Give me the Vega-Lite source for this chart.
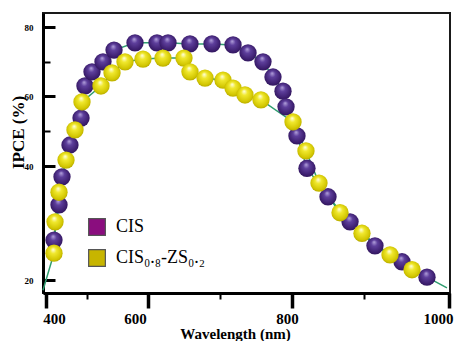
{
  "$schema": "https://vega.github.io/schema/vega-lite/v6.json",
  "width": 407,
  "height": 280,
  "autosize": "none",
  "padding": {"left": 43, "top": 13, "right": 9, "bottom": 48},
  "background": "white",
  "config": {
    "view": {"stroke": "#1a1a1a", "strokeWidth": 2},
    "font": "Liberation Serif"
  },
  "data": {
    "values": [
      {"series": "CIS", "kind": "pt", "wl": 419.5, "ipce": 27.0},
      {"series": "CIS", "kind": "pt", "wl": 431.7, "ipce": 33.2},
      {"series": "CIS", "kind": "pt", "wl": 439.0, "ipce": 38.1},
      {"series": "CIS", "kind": "pt", "wl": 458.5, "ipce": 46.0},
      {"series": "CIS", "kind": "pt", "wl": 485.4, "ipce": 53.7},
      {"series": "CIS", "kind": "pt", "wl": 495.0, "ipce": 62.9},
      {"series": "CIS", "kind": "pt", "wl": 508.2, "ipce": 67.0},
      {"series": "CIS", "kind": "pt", "wl": 526.2, "ipce": 69.9},
      {"series": "CIS", "kind": "pt", "wl": 544.3, "ipce": 73.3},
      {"series": "CIS", "kind": "pt", "wl": 578.7, "ipce": 75.4},
      {"series": "CIS", "kind": "pt", "wl": 612.5, "ipce": 75.4},
      {"series": "CIS", "kind": "pt", "wl": 627.8, "ipce": 75.4},
      {"series": "CIS", "kind": "pt", "wl": 658.3, "ipce": 75.1},
      {"series": "CIS", "kind": "pt", "wl": 688.9, "ipce": 75.1},
      {"series": "CIS", "kind": "pt", "wl": 718.1, "ipce": 74.8},
      {"series": "CIS", "kind": "pt", "wl": 738.9, "ipce": 72.5},
      {"series": "CIS", "kind": "pt", "wl": 759.7, "ipce": 69.9},
      {"series": "CIS", "kind": "pt", "wl": 773.6, "ipce": 65.5},
      {"series": "CIS", "kind": "pt", "wl": 787.5, "ipce": 61.4},
      {"series": "CIS", "kind": "pt", "wl": 791.7, "ipce": 56.9},
      {"series": "CIS", "kind": "pt", "wl": 806.9, "ipce": 48.6},
      {"series": "CIS", "kind": "pt", "wl": 820.8, "ipce": 39.6},
      {"series": "CIS", "kind": "pt", "wl": 850.0, "ipce": 34.6},
      {"series": "CIS", "kind": "pt", "wl": 880.6, "ipce": 30.2},
      {"series": "CIS", "kind": "pt", "wl": 912.9, "ipce": 26.0},
      {"series": "CIS", "kind": "pt", "wl": 944.7, "ipce": 23.2},
      {"series": "CIS", "kind": "pt", "wl": 974.1, "ipce": 20.5},
      {"series": "CIS", "kind": "end", "wl": 997.6, "ipce": 18.6},
      {"series": "CIS₀.₈-ZS₀.₂", "kind": "end", "wl": 394.0, "ipce": 18.2},
      {"series": "CIS₀.₈-ZS₀.₂", "kind": "pt", "wl": 419.5, "ipce": 24.7},
      {"series": "CIS₀.₈-ZS₀.₂", "kind": "pt", "wl": 422.0, "ipce": 30.2},
      {"series": "CIS₀.₈-ZS₀.₂", "kind": "pt", "wl": 431.7, "ipce": 35.4},
      {"series": "CIS₀.₈-ZS₀.₂", "kind": "pt", "wl": 448.8, "ipce": 41.7},
      {"series": "CIS₀.₈-ZS₀.₂", "kind": "pt", "wl": 470.7, "ipce": 50.3},
      {"series": "CIS₀.₈-ZS₀.₂", "kind": "pt", "wl": 487.8, "ipce": 58.3},
      {"series": "CIS₀.₈-ZS₀.₂", "kind": "pt", "wl": 522.9, "ipce": 62.9},
      {"series": "CIS₀.₈-ZS₀.₂", "kind": "pt", "wl": 541.0, "ipce": 66.7},
      {"series": "CIS₀.₈-ZS₀.₂", "kind": "pt", "wl": 562.3, "ipce": 69.9},
      {"series": "CIS₀.₈-ZS₀.₂", "kind": "pt", "wl": 591.8, "ipce": 70.7},
      {"series": "CIS₀.₈-ZS₀.₂", "kind": "pt", "wl": 620.8, "ipce": 71.0},
      {"series": "CIS₀.₈-ZS₀.₂", "kind": "pt", "wl": 650.0, "ipce": 71.0},
      {"series": "CIS₀.₈-ZS₀.₂", "kind": "pt", "wl": 658.3, "ipce": 67.0},
      {"series": "CIS₀.₈-ZS₀.₂", "kind": "pt", "wl": 679.2, "ipce": 65.2},
      {"series": "CIS₀.₈-ZS₀.₂", "kind": "pt", "wl": 704.2, "ipce": 64.6},
      {"series": "CIS₀.₈-ZS₀.₂", "kind": "pt", "wl": 718.1, "ipce": 62.3},
      {"series": "CIS₀.₈-ZS₀.₂", "kind": "pt", "wl": 734.7, "ipce": 60.3},
      {"series": "CIS₀.₈-ZS₀.₂", "kind": "pt", "wl": 756.9, "ipce": 58.9},
      {"series": "CIS₀.₈-ZS₀.₂", "kind": "pt", "wl": 801.4, "ipce": 52.6},
      {"series": "CIS₀.₈-ZS₀.₂", "kind": "pt", "wl": 819.4, "ipce": 44.3},
      {"series": "CIS₀.₈-ZS₀.₂", "kind": "pt", "wl": 837.5, "ipce": 37.0},
      {"series": "CIS₀.₈-ZS₀.₂", "kind": "pt", "wl": 866.7, "ipce": 31.8},
      {"series": "CIS₀.₈-ZS₀.₂", "kind": "pt", "wl": 897.2, "ipce": 28.2},
      {"series": "CIS₀.₈-ZS₀.₂", "kind": "pt", "wl": 930.6, "ipce": 24.4},
      {"series": "CIS₀.₈-ZS₀.₂", "kind": "pt", "wl": 956.5, "ipce": 21.8}
    ]
  },
  "encoding": {
    "x": {
      "field": "wl",
      "type": "quantitative",
      "scale": {
        "domain": [394, 400, 500, 600, 700, 800, 900, 1000],
        "range": [0, 3, 44, 105, 177, 249, 321, 406],
        "nice": false,
        "zero": false
      },
      "axis": {
        "values": [400, 500, 600, 700, 800, 900, 1000],
        "format": "d",
        "labelExpr": "datum.value % 200 == 0 ? datum.label : ''",
        "grid": false,
        "domainColor": "#000",
        "domainWidth": 3,
        "tickColor": "#000",
        "tickSize": {"condition": {"test": "datum.value % 200 == 0", "value": 15}, "value": 6},
        "tickWidth": {"condition": {"test": "datum.value % 200 == 0", "value": 3.5}, "value": 2},
        "labelFont": "Liberation Serif",
        "labelFontWeight": "bold",
        "labelFontSize": 15,
        "labelColor": "#000",
        "labelPadding": 3,
        "labelOffset": {
          "condition": [
            {"test": "datum.value == 400", "value": 8},
            {"test": "datum.value == 600", "value": -13},
            {"test": "datum.value == 800", "value": -5},
            {"test": "datum.value == 1000", "value": -11}
          ],
          "value": 0
        },
        "labelFlush": false,
        "title": "Wavelength  (nm)",
        "titleFont": "Liberation Serif",
        "titleFontWeight": "bold",
        "titleFontSize": 15,
        "titleColor": "#000",
        "titleX": 192,
        "titleY": 40,
        "titleBaseline": "middle",
        "titleAlign": "center"
      }
    },
    "y": {
      "field": "ipce",
      "type": "quantitative",
      "scale": {
        "domain": [17.7, 20, 40, 60, 80, 84],
        "range": [280, 267, 153, 83, 14, 0],
        "nice": false,
        "zero": false
      },
      "axis": {
        "values": [20, 40, 50, 60, 70, 80],
        "labelExpr": "datum.value % 20 == 0 ? datum.label : ''",
        "grid": false,
        "domainColor": "#000",
        "domainWidth": 3,
        "tickColor": "#000",
        "tickSize": {"condition": {"test": "datum.value % 20 == 0", "value": -12}, "value": -7},
        "tickWidth": {"condition": {"test": "datum.value % 20 == 0", "value": 3}, "value": 2},
        "labelFont": "Liberation Serif",
        "labelFontWeight": "bold",
        "labelFontSize": 9,
        "labelColor": "#000",
        "labelPadding": 22,
        "labelFlush": false,
        "title": "IPCE (%)",
        "titleFont": "Liberation Serif",
        "titleFontWeight": "bold",
        "titleFontSize": 17,
        "titleColor": "#000",
        "titleAngle": 270,
        "titleX": -25,
        "titleY": 119,
        "titleBaseline": "middle",
        "titleAlign": "center"
      }
    }
  },
  "layer": [
    {
      "mark": {"type": "line", "color": "#2f9d6f", "strokeWidth": 1.5},
      "encoding": {
        "detail": {"field": "series"},
        "order": {"field": "wl", "type": "quantitative"}
      }
    },
    {
      "transform": [{"filter": "datum.kind == 'pt'"}],
      "mark": {"type": "square", "opacity": 0, "size": 10},
      "encoding": {
        "fill": {
          "field": "series",
          "type": "nominal",
          "scale": {"domain": ["CIS", "CIS₀.₈-ZS₀.₂"], "range": ["#8a0d7e", "#c7b500"]},
          "legend": {
            "orient": "none",
            "legendX": 45,
            "legendY": 205,
            "title": null,
            "symbolType": "square",
            "symbolSize": 280,
            "symbolOpacity": 1,
            "symbolStrokeWidth": 1.2,
            "symbolStrokeColor": "#555",
            "labelFont": "Liberation Serif",
            "labelFontSize": 18,
            "labelColor": "#000",
            "labelOffset": 10,
            "rowPadding": 9,
            "padding": 0
          }
        }
      }
    },
    {
      "transform": [{"filter": "datum.kind == 'pt' && datum.series == 'CIS'"}],
      "mark": {
        "type": "circle",
        "size": 300,
        "opacity": 1,
        "fill": {
          "gradient": "radial",
          "x1": 0.45, "y1": 0.28, "r1": 0,
          "x2": 0.5, "y2": 0.5, "r2": 0.6,
          "stops": [
            {"offset": 0, "color": "#b3a2dc"},
            {"offset": 0.3, "color": "#5e3f9c"},
            {"offset": 0.75, "color": "#3c1e6e"},
            {"offset": 1, "color": "#27104c"}
          ]
        }
      }
    },
    {
      "transform": [{"filter": "datum.kind == 'pt' && datum.series != 'CIS'"}],
      "mark": {
        "type": "circle",
        "size": 300,
        "opacity": 1,
        "fill": {
          "gradient": "radial",
          "x1": 0.45, "y1": 0.28, "r1": 0,
          "x2": 0.5, "y2": 0.5, "r2": 0.6,
          "stops": [
            {"offset": 0, "color": "#ffffe6"},
            {"offset": 0.3, "color": "#f0e82e"},
            {"offset": 0.75, "color": "#d2c600"},
            {"offset": 1, "color": "#9a8d00"}
          ]
        }
      }
    }
  ]
}
